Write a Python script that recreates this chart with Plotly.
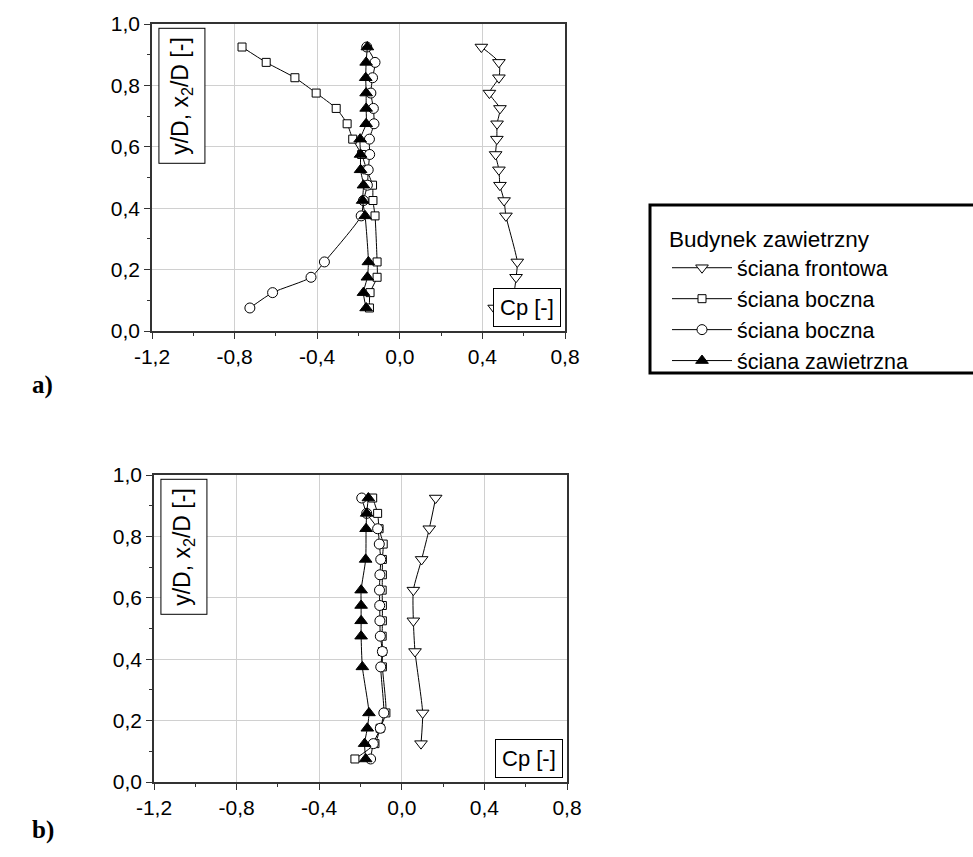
import plotly.graph_objects as go
from plotly.subplots import make_subplots

# heights (y/D) of measurement points
y_levels = [0.075, 0.125, 0.175, 0.225, 0.375, 0.425, 0.475, 0.525,
            0.575, 0.625, 0.675, 0.725, 0.775, 0.825, 0.875, 0.925]

# ---- a) ----
a_front = [0.457, 0.55, 0.563, 0.569, 0.514, 0.505, 0.485, 0.48,
           0.464, 0.47, 0.471, 0.485, 0.434, 0.48, 0.48, 0.395]
a_side1 = [-0.147, -0.144, -0.11, -0.11, -0.12, -0.13, -0.132, -0.16,
           -0.185, -0.228, -0.255, -0.308, -0.405, -0.508, -0.647, -0.764]
a_side2 = [-0.726, -0.616, -0.43, -0.365, -0.187, -0.176, -0.157, -0.153,
           -0.146, -0.147, -0.125, -0.128, -0.14, -0.132, -0.12, -0.16]
a_lee = [-0.163, -0.176, -0.157, -0.152, -0.168, -0.18, -0.176, -0.19,
         -0.19, -0.192, -0.163, -0.163, -0.163, -0.165, -0.163, -0.157]

# ---- b) ----
b_front_y = [0.125, 0.225, 0.425, 0.525, 0.625, 0.725, 0.825, 0.925]
b_front = [0.093, 0.101, 0.064, 0.056, 0.056, 0.096, 0.133, 0.164]
b_side1 = [-0.227, -0.13, -0.105, -0.077, -0.094, -0.094, -0.095, -0.094,
           -0.094, -0.095, -0.094, -0.094, -0.09, -0.11, -0.117, -0.141]
b_side2 = [-0.151, -0.138, -0.104, -0.087, -0.102, -0.094, -0.104, -0.106,
           -0.107, -0.108, -0.106, -0.102, -0.109, -0.117, -0.17, -0.194]
b_lee_y = [0.075, 0.125, 0.175, 0.225, 0.375, 0.475, 0.525, 0.575,
           0.625, 0.725, 0.825, 0.875, 0.925]
b_lee = [-0.175, -0.18, -0.167, -0.159, -0.191, -0.197, -0.197, -0.197,
         -0.197, -0.175, -0.173, -0.170, -0.162]

x_ticks = [-1.2, -0.8, -0.4, 0.0, 0.4, 0.8]
x_labels = ["-1,2", "-0,8", "-0,4", "0,0", "0,4", "0,8"]
y_ticks = [0.0, 0.2, 0.4, 0.6, 0.8, 1.0]
y_labels = ["0,0", "0,2", "0,4", "0,6", "0,8", "1,0"]

names = ["ściana frontowa", "ściana boczna", "ściana boczna", "ściana zawietrzna"]
styles = [
    dict(symbol="triangle-down", size=11, color="white"),
    dict(symbol="square", size=8, color="white"),
    dict(symbol="circle", size=10, color="white"),
    dict(symbol="triangle-up", size=11, color="black"),
]

FONT = "Liberation Sans, Arial, sans-serif"
W, H = 973, 857


def px_x(p):
    return p / W


def px_y(p):
    return (H - p) / H


fig = make_subplots(rows=2, cols=1, vertical_spacing=0.06)

panels = [
    (1, [(a_front, y_levels), (a_side1, y_levels), (a_side2, y_levels), (a_lee, y_levels)]),
    (2, [(b_front, b_front_y), (b_side1, y_levels), (b_side2, y_levels), (b_lee, b_lee_y)]),
]
for row, series in panels:
    for i, (xs, ys) in enumerate(series):
        st = styles[i]
        fig.add_trace(go.Scatter(
            x=xs, y=ys, mode="lines+markers", name=names[i],
            showlegend=(row == 1),
            line=dict(color="black", width=1, shape="spline", smoothing=0.6),
            marker=dict(symbol=st["symbol"], size=st["size"], color=st["color"],
                        line=dict(color="black", width=1)),
        ), row=row, col=1)

axis_common = dict(showline=True, linecolor="#333333", linewidth=1.5, mirror=True,
                   ticks="outside", ticklen=6, tickcolor="#333333", automargin=False,
                   showgrid=True, gridcolor="#d0d0d0", gridwidth=1, zeroline=False,
                   tickfont=dict(family=FONT, size=21, color="black"))

fig.update_xaxes(range=[-1.2, 0.8], tickvals=x_ticks, ticktext=x_labels,
                 minor=dict(dtick=0.2, tick0=-1.2, ticks="outside", ticklen=3,
                            tickcolor="#333333", showgrid=False),
                 **axis_common)
fig.update_yaxes(range=[0.0, 1.0], tickvals=y_ticks, ticktext=y_labels,
                 minor=dict(dtick=0.1, tick0=0, ticks="outside", ticklen=3,
                            tickcolor="#333333", showgrid=False),
                 **axis_common)

fig.update_layout(
    xaxis=dict(domain=[px_x(152), px_x(565)]),
    xaxis2=dict(domain=[px_x(154), px_x(567)]),
    yaxis=dict(domain=[px_y(331), px_y(24)]),
    yaxis2=dict(domain=[px_y(782), px_y(475)]),
)

annotations = []
for ax in ["", "2"]:
    annotations.append(dict(
        xref=f"x{ax} domain", yref=f"y{ax} domain", x=0.016, y=0.988,
        xanchor="left", yanchor="top", textangle=-90, showarrow=False,
        text="y/D, x<sub>2</sub>/D [-]", font=dict(family=FONT, size=23, color="black"),
        bordercolor="black", borderwidth=1, borderpad=8, bgcolor="white"))
    annotations.append(dict(
        xref=f"x{ax} domain", yref=f"y{ax} domain", x=0.99, y=0.013,
        xanchor="right", yanchor="bottom", showarrow=False,
        text="Cp [-]", font=dict(family=FONT, size=22, color="black"),
        bordercolor="black", borderwidth=1, borderpad=6, bgcolor="white"))
annotations.append(dict(xref="paper", yref="paper", x=px_x(30), y=px_y(385),
                        xanchor="left", yanchor="middle", showarrow=False, text="<b>a)</b>",
                        font=dict(family="Liberation Serif, Times New Roman, serif", size=25, color="black")))
annotations.append(dict(xref="paper", yref="paper", x=px_x(30), y=px_y(830),
                        xanchor="left", yanchor="middle", showarrow=False, text="<b>b)</b>",
                        font=dict(family="Liberation Serif, Times New Roman, serif", size=25, color="black")))

fig.update_layout(
    width=W, height=H,
    margin=dict(l=0, r=0, t=0, b=0),
    paper_bgcolor="white", plot_bgcolor="white",
    annotations=annotations,
    showlegend=True,
    legend=dict(
        x=px_x(667), y=px_y(218), xanchor="left", yanchor="top",
        title=dict(text="Budynek zawietrzny", font=dict(family=FONT, size=22.5, color="black")),
        font=dict(family=FONT, size=21.5, color="black"),
        bgcolor="rgba(0,0,0,0)", borderwidth=0, itemwidth=60,
    ),
    shapes=[dict(type="rect", xref="paper", yref="paper",
                 x0=px_x(650), x1=1.02, y0=px_y(373), y1=px_y(205),
                 line=dict(color="black", width=3))],
)

fig.write_html("out.html", config={"displayModeBar": False},
               post_script="document.body.style.margin='0';")
